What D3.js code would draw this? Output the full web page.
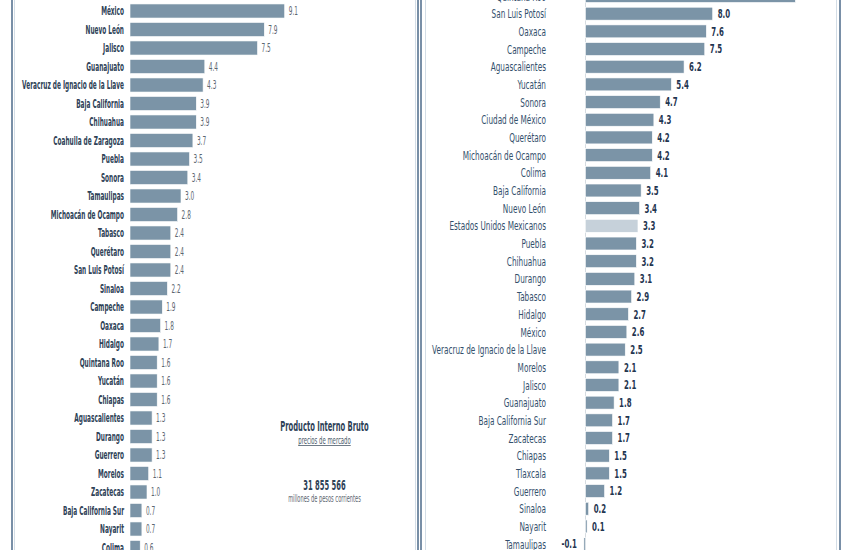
<!DOCTYPE html>
<html><head><meta charset="utf-8">
<script src="https://cdn.jsdelivr.net/npm/d3@7"></script>
<style>body{margin:0;background:#fff}svg{display:block}</style>
</head><body>
<svg id="c" width="850" height="550"></svg>
<script>
// ---- data ----
const leftStates = ["Ciudad de México","México","Nuevo León","Jalisco","Guanajuato","Veracruz de Ignacio de la Llave","Baja California","Chihuahua","Coahuila de Zaragoza","Puebla","Sonora","Tamaulipas","Michoacán de Ocampo","Tabasco","Querétaro","San Luis Potosí","Sinaloa","Campeche","Oaxaca","Hidalgo","Quintana Roo","Yucatán","Chiapas","Aguascalientes","Durango","Guerrero","Morelos","Zacatecas","Baja California Sur","Nayarit","Colima"];
const leftValues = [14.9,9.1,7.9,7.5,4.4,4.3,3.9,3.9,3.7,3.5,3.4,3.0,2.8,2.4,2.4,2.4,2.2,1.9,1.8,1.7,1.6,1.6,1.6,1.3,1.3,1.3,1.1,1.0,0.7,0.7,0.6];

const rightStates = ["Quintana Roo","San Luis Potosí","Oaxaca","Campeche","Aguascalientes","Yucatán","Sonora","Ciudad de México","Querétaro","Michoacán de Ocampo","Colima","Baja California","Nuevo León","Estados Unidos Mexicanos","Puebla","Chihuahua","Durango","Tabasco","Hidalgo","México","Veracruz de Ignacio de la Llave","Morelos","Jalisco","Guanajuato","Baja California Sur","Zacatecas","Chiapas","Tlaxcala","Guerrero","Sinaloa","Nayarit","Tamaulipas"];
const rightValues = [13.2,8.0,7.6,7.5,6.2,5.4,4.7,4.3,4.2,4.2,4.1,3.5,3.4,3.3,3.2,3.2,3.1,2.9,2.7,2.6,2.5,2.1,2.1,1.8,1.7,1.7,1.5,1.5,1.2,0.2,0.1,-0.1];
const nationalLabel = "Estados Unidos Mexicanos";

const infoTitle = "Producto Interno Bruto";
const infoSubtitle = "precios de mercado";
const infoTotal = "31 855 566";
const infoUnit = "millones de pesos corrientes";

// ---- setup ----
const svg = d3.select("#c");
const FONT = "'Liberation Sans Narrow','Arial Narrow','DejaVu Sans Condensed','Liberation Sans',sans-serif";
const barColor = "#7b94a7", natColor = "#c6d1da";
const fmt = v => d3.format(".1f")(v).replace("\u2212","-");

function measure(text, size, weight){
  const t = svg.append("text").attr("font-family",FONT).attr("font-size",size).attr("font-weight",weight).text(text);
  const w = t.node().getComputedTextLength(); t.remove(); return w;
}
const sxL = 102 / measure("Veracruz de Ignacio de la Llave", 12, "bold");
const sxR = 114 / measure("Veracruz de Ignacio de la Llave", 13, "normal");

function txt(g, x, y, s, size, weight, fill, anchor, sx){
  return g.append("text")
    .attr("transform", `translate(${x},${y}) scale(${sx},1)`)
    .attr("font-family",FONT).attr("font-size",size).attr("font-weight",weight)
    .attr("fill",fill).attr("text-anchor",anchor).text(s);
}

// ---- frames ----
const frames = svg.append("g");
frames.append("rect").attr("x",12).attr("y",-10).attr("width",406).attr("height",580)
  .attr("fill","none").attr("stroke","#4d6b8a").attr("stroke-width",1.5);
frames.append("rect").attr("x",14.5).attr("y",-10).attr("width",401).attr("height",580)
  .attr("fill","none").attr("stroke","#d3dde6").attr("stroke-width",1);
frames.append("rect").attr("x",421).attr("y",-10).attr("width",419).attr("height",580)
  .attr("fill","none").attr("stroke","#4d6b8a").attr("stroke-width",1.5);
frames.append("rect").attr("x",425.5).attr("y",-10).attr("width",411).attr("height",580)
  .attr("fill","none").attr("stroke","#d3dde6").attr("stroke-width",1);

// ---- left panel ----
const xL = d3.scaleLinear().domain([0,10]).range([130,300]);
const stepL = 18.5, c0L = -7.5;
const yL = d3.scaleBand().domain(leftStates)
  .range([c0L - stepL/2, c0L - stepL/2 + leftStates.length*stepL])
  .paddingInner(0.24).paddingOuter(0.12);
const gL = svg.append("g");
leftStates.forEach((s,i)=>{
  const v = leftValues[i], y = yL(s), h = yL.bandwidth(), cy = y + h/2;
  gL.append("rect").attr("x",xL(0)).attr("y",y).attr("width",xL(v)-xL(0)).attr("height",h)
    .attr("fill",barColor).attr("stroke","#fff").attr("stroke-width",0.6);
  txt(gL, 124, cy+4.2, s, 12, "bold", "#2e4257", "end", sxL);
  txt(gL, xL(v)+4, cy+4, fmt(v), 12, "normal", "#5c6670", "start", sxL);
});

// info block
const gI = svg.append("g");
txt(gI, 324.5, 431, infoTitle, 14, "bold", "#2e4257", "middle", sxL);
const sub = txt(gI, 324.5, 443.5, infoSubtitle, 11, "normal", "#4b5a6a", "middle", sxL);
const sw = sub.node().getComputedTextLength()*sxL;
gI.append("line").attr("x1",324.5-sw/2).attr("x2",324.5+sw/2).attr("y1",445.5).attr("y2",445.5)
  .attr("stroke","#4b5a6a").attr("stroke-width",0.8);
txt(gI, 324.5, 489.5, infoTotal, 14, "bold", "#2e4257", "middle", sxL);
txt(gI, 324.5, 502, infoUnit, 10.5, "normal", "#5c6670", "middle", sxL);

// ---- right panel ----
const xR = d3.scaleLinear().domain([0,10]).range([585.5,744.5]);
const stepR = 17.68, c0R = -4;
const yR = d3.scaleBand().domain(rightStates)
  .range([c0R - stepR/2, c0R - stepR/2 + rightStates.length*stepR])
  .paddingInner(0.27).paddingOuter(0.135);
const gR = svg.append("g");
gR.append("line").attr("x1",xR(0)).attr("x2",xR(0)).attr("y1",0).attr("y2",550)
  .attr("stroke","#d5dbe0").attr("stroke-width",1);
rightStates.forEach((s,i)=>{
  const v = rightValues[i], y = yR(s), h = yR.bandwidth(), cy = y + h/2;
  const x0 = Math.min(xR(0), xR(v)), w = Math.max(0.8, Math.abs(xR(v)-xR(0)));
  gR.append("rect").attr("x",x0).attr("y",y).attr("width",w).attr("height",h)
    .attr("fill", s===nationalLabel ? natColor : barColor).attr("stroke","#fff").attr("stroke-width",0.6);
  txt(gR, 546, cy+4.6, s, 13, "normal", "#34506c", "end", sxR);
  if (v >= 0) txt(gR, xR(v)+5, cy+4.4, fmt(v), 12.5, "bold", "#1f3550", "start", sxR);
  else txt(gR, xR(v)-7, cy+4.4, fmt(v), 12.5, "bold", "#1f3550", "end", sxR);
});
</script>
</body></html>
